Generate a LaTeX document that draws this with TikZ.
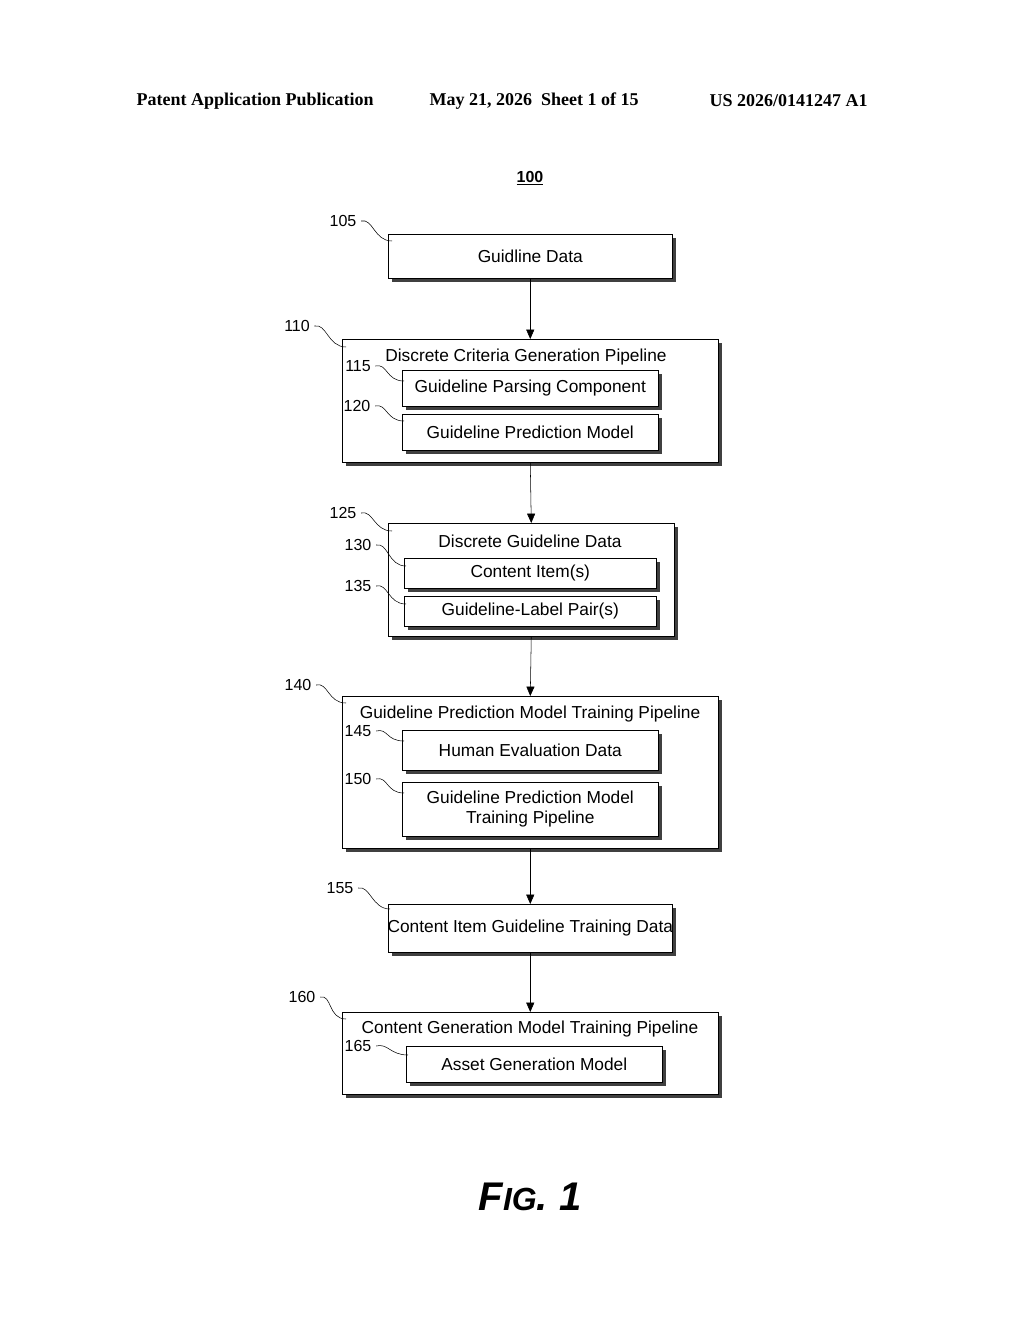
\documentclass[tikz,border=0pt]{standalone}
\usepackage{fontspec}
\setmainfont{Liberation Sans}
\newfontfamily\serifhead{Liberation Serif}
\usetikzlibrary{positioning, arrows.meta, shadows}

\tikzset{
  blk/.style={draw, thin, fill=white, inner sep=0pt,
    drop shadow={shadow xshift=2.5pt, shadow yshift=-2.5pt, fill=black!75, opacity=1}},
  lbl/.style={font=\fontsize{12}{12}\selectfont},
  txt/.style={font=\fontsize{13}{15}\selectfont, align=center},
  lead/.style={thin},
  flow/.style={thin, -{Triangle[length=7pt, width=6pt]}}
}
% box from corner pixel coords
\newcommand{\blkat}[5]{\node[blk, minimum width=#4*0.75pt-#2*0.75pt, minimum height=#5*0.75pt-#3*0.75pt, anchor=north west] (#1) at (#2,#3) {};}

\begin{document}
\begin{tikzpicture}[x=0.75pt, y=-0.75pt]
        \useasboundingbox (0,0) rectangle (1024,1320);

        % Header
        \node[font=\serifhead\bfseries\fontsize{13.5}{14}\selectfont, anchor=west] (hdl) at (132,101) {Patent Application Publication};
        \node[font=\serifhead\bfseries\fontsize{13.5}{14}\selectfont, anchor=west] (hdm) at (425,101) {May 21, 2026\ \ Sheet 1 of 15};
        \node[font=\serifhead\bfseries\fontsize{13.5}{14}\selectfont, anchor=west] (hdr) at (705,101) {US 2026/0141247 A1};
        \node[font=\bfseries\fontsize{12}{12}\selectfont] (fig) at (530,178) {\underline{100}};

        % Boxes
        \blkat{b105}{388}{234}{672}{278}
        \blkat{b110}{342}{339}{718}{462}
        \blkat{b115}{402}{370}{658}{406}
        \blkat{b120}{402}{414}{658}{450}
        \blkat{b125}{388}{523}{674}{636}
        \blkat{b130}{404}{558}{656}{588}
        \blkat{b135}{404}{596}{656}{626}
        \blkat{b140}{342}{696}{718}{848}
        \blkat{b145}{402}{730}{658}{770}
        \blkat{b150}{402}{782}{658}{836}
        \blkat{b155}{388}{904}{672}{952}
        \blkat{b160}{342}{1012}{718}{1094}
        \blkat{b165}{406}{1046}{662}{1082}

        % Texts
        \node[txt] at (b105) {Guidline Data};
        \node[txt] (t110) at (526,357) {Discrete Criteria Generation Pipeline};
        \node[txt] at (b115) {Guideline Parsing Component};
        \node[txt] at (b120) {Guideline Prediction Model};
        \node[txt] (t125) at (530,541) {Discrete Guideline Data};
        \node[txt] at (b130) {Content Item(s)};
        \node[txt] at (b135) {Guideline-Label Pair(s)};
        \node[txt] (t140) at (530,714) {Guideline Prediction Model Training Pipeline};
        \node[txt] at (b145) {Human Evaluation Data};
        \node[txt] at (b150) {Guideline Prediction Model\\Training Pipeline};
        \node[txt] at (b155) {Content Item Guideline Training Data};
        \node[txt] (t160) at (530,1029) {Content Generation Model Training Pipeline};
        \node[txt] at (b165) {Asset Generation Model};

        % Flow arrows
        \draw[flow] (b105.south) -- (b110.north);
        \draw[flow] (b110.south) -- (b125.north);
        \draw[flow] (b125.south) -- (b140.north);
        \draw[flow] (b140.south) -- (b155.north);
        \draw[flow] (b155.south) -- (b160.north);

        % Reference numerals with leaders
        \foreach \n/\lx/\ly/\tx/\ty in {105/343/221/392/241, 110/297/326/346/347,
            115/358/366/404/381, 120/357/406/404/421, 125/343/513/392/531,
            130/358/545/406/566, 135/358/586/406/604, 140/298/685/346/703,
            145/358/731/404/741, 150/358/779/404/793, 155/340/888/390/909,
            160/302/997/346/1019, 165/358/1046/408/1055}{
          \node[lbl] (r\n) at (\lx,\ly) {\n};
          \coordinate (e\n) at (\tx,\ty);
          \draw[lead] (r\n.east) .. controls +(12,-3) and +(-18,0) .. (e\n);
        }

        \node[font=\bfseries\itshape\fontsize{30}{30}\selectfont] (cap) at (530,1197) {F{\fontsize{24}{24}\selectfont IG}. 1};
\end{tikzpicture}
\end{document}
